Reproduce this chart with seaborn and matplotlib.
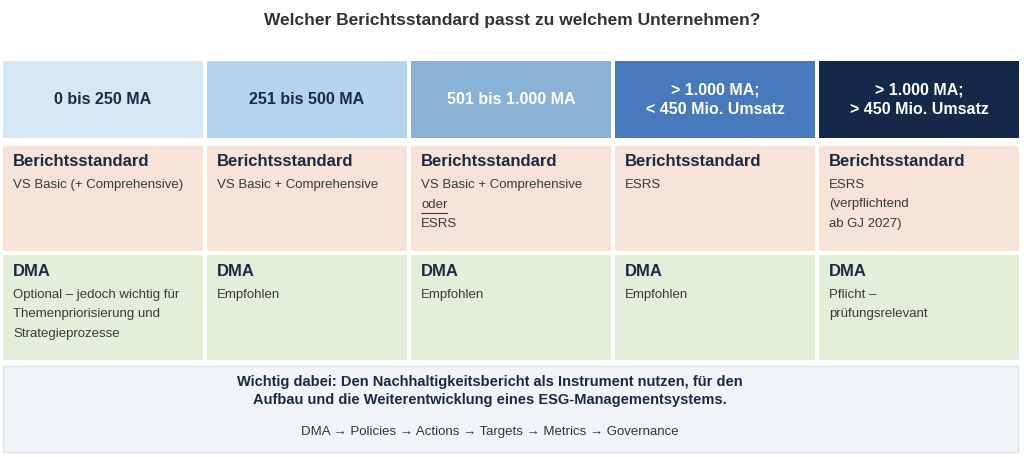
import matplotlib
matplotlib.use("Agg")
import matplotlib.pyplot as plt
from matplotlib.patches import Rectangle
import seaborn as sns

sns.set_theme(style="white")
plt.rcParams['font.family'] = ['Liberation Sans', 'DejaVu Sans']

title = "Welcher Berichtsstandard passt zu welchem Unternehmen?"
headers = ["0 bis 250 MA", "251 bis 500 MA", "501 bis 1.000 MA",
           "> 1.000 MA;\n< 450 Mio. Umsatz", "> 1.000 MA;\n> 450 Mio. Umsatz"]
header_colors = ["#d6e7f6", "#b4d4ed", "#8ab2d7", "#4779bd", "#14284a"]
header_text_colors = ["#1b2a44", "#1b2a44", "white", "white", "white"]
std_label = "Berichtsstandard"
std_text = [["VS Basic (+ Comprehensive)"], ["VS Basic + Comprehensive"],
            ["VS Basic + Comprehensive", "oder", "ESRS"], ["ESRS"],
            ["ESRS", "(verpflichtend", "ab GJ 2027)"]]
dma_label = "DMA"
dma_text = [["Optional – jedoch wichtig für", "Themenpriorisierung und", "Strategieprozesse"],
            ["Empfohlen"], ["Empfohlen"], ["Empfohlen"], ["Pflicht –", "prüfungsrelevant"]]
footer_bold = "Wichtig dabei: Den Nachhaltigkeitsbericht als Instrument nutzen, für den\nAufbau und die Weiterentwicklung eines ESG-Managementsystems."
footer_flow = "DMA → Policies → Actions → Targets → Metrics → Governance"

dark = "#1b2a44"
body = "#3a3a3a"

fig = plt.figure(figsize=(10.24, 4.57), dpi=100)
ax = fig.add_axes([0, 0, 1, 1])
ax.set_xlim(0, 1024)
ax.set_ylim(457, 0)
ax.axis("off")

ax.text(512, 20, title, ha="center", va="center", fontsize=12.5, fontweight="bold", color="#333333")

x0, cw, gap = 3, 200, 4
fig.canvas.draw()
r = fig.canvas.get_renderer()
for i in range(len(headers)):
    x = x0 + i * (cw + gap)
    ax.add_patch(Rectangle((x, 61), cw, 77, color=header_colors[i], lw=0))
    ax.text(x + cw / 2, 100, headers[i], ha="center", va="center", fontsize=11.5,
            fontweight="bold", color=header_text_colors[i], linespacing=1.35)
    ax.add_patch(Rectangle((x, 146), cw, 105, color="#f7e3d7", lw=0))
    ax.text(x + 10, 162, std_label, va="center", fontsize=12, fontweight="bold", color=dark)
    for j, line in enumerate(std_text[i]):
        t = ax.text(x + 10, 185 + j * 19.5, line, va="center", fontsize=9.5, color=body)
        if line == "oder":
            bb = t.get_window_extent(renderer=r)
            ax.plot([x + 10, x + 10 + bb.width], [185 + j * 19.5 + 8] * 2, color=body, lw=0.8)
    ax.add_patch(Rectangle((x, 255), cw, 105, color="#e3efd9", lw=0))
    ax.text(x + 10, 271, dma_label, va="center", fontsize=12, fontweight="bold", color=dark)
    for j, line in enumerate(dma_text[i]):
        ax.text(x + 10, 295 + j * 19.5, line, va="center", fontsize=9.5, color=body)

ax.add_patch(Rectangle((3, 366), 1015, 86, facecolor="#f1f4f9", edgecolor="#dde3ec", lw=1))
ax.text(490, 391, footer_bold, ha="center", va="center", fontsize=10.5, fontweight="bold",
        color=dark, linespacing=1.4)
ax.text(490, 432, footer_flow, ha="center", va="center", fontsize=9.5, color="#333333")

fig.savefig("out.png", dpi=100)
